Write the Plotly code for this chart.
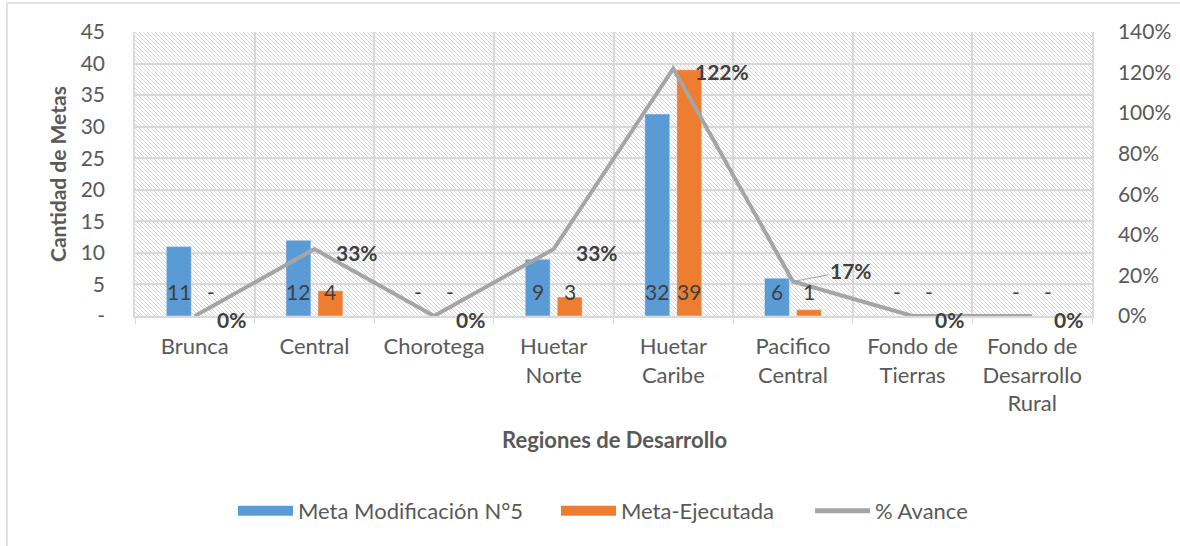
import base64
import plotly.graph_objects as go

# ---------------- data ----------------
categories = ["Brunca", "Central", "Chorotega", "Huetar Norte", "Huetar Caribe",
              "Pacifico Central", "Fondo de Tierras", "Fondo de Desarrollo Rural"]
tick_labels = ["Brunca", "Central", "Chorotega", "Huetar<br>Norte", "Huetar<br>Caribe",
               "Pacifico<br>Central", "Fondo de<br>Tierras", "Fondo de<br>Desarrollo<br>Rural"]
meta_mod = [11, 12, 0, 9, 32, 6, 0, 0]
meta_ejec = [0, 4, 0, 3, 39, 1, 0, 0]
avance = [0.0, 0.33, 0.0, 0.33, 1.22, 0.17, 0.0, 0.0]
leader_idx = 5  # label with leader line

y_ticks = [0, 5, 10, 15, 20, 25, 30, 35, 40, 45]
y_ticktext = ["-", "5", "10", "15", "20", "25", "30", "35", "40", "45"]
y2_ticks = [0, 0.2, 0.4, 0.6, 0.8, 1.0, 1.2, 1.4]

series_names = ["Meta Modificación N°5", "Meta-Ejecutada", "% Avance"]

# ---------------- style ----------------
W, H = 1180, 546
ML, MR, MT, MB = 135, 88, 32, 230
PW, PH = W - ML - MR, H - MT - MB
FONT = "Lato, 'Open Sans', sans-serif"
GRID = "#D9D9D9"
TXT = "#595959"
LBL = "#404040"
BLUE, ORANGE, GREY = "#5B9BD5", "#ED7D31", "#A5A5A5"
FS_NUM = 20
FS_TXT = 22
LEGEND_PX = [238, 561, 815]  # left pixel of each legend swatch

# hatched plot background (diagonal lines)
svg = (
    f'<svg xmlns="http://www.w3.org/2000/svg" width="{PW}" height="{PH}">'
    '<defs><pattern id="p" width="4" height="4" patternUnits="userSpaceOnUse">'
    '<path d="M-1,-1 L5,5" stroke="#D4D4D4" stroke-width="1"/>'
    '<path d="M-1,3 L1,5" stroke="#D4D4D4" stroke-width="1"/>'
    '<path d="M3,-1 L5,1" stroke="#D4D4D4" stroke-width="1"/>'
    '</pattern></defs>'
    f'<rect width="{PW}" height="{PH}" fill="white"/>'
    f'<rect width="{PW}" height="{PH}" fill="url(#p)"/></svg>'
)
svg_uri = "data:image/svg+xml;base64," + base64.b64encode(svg.encode()).decode()

fig = go.Figure()
fig.add_trace(go.Bar(x=categories, y=meta_mod, name=series_names[0],
                     marker_color=BLUE, yaxis="y", showlegend=False))
fig.add_trace(go.Bar(x=categories, y=meta_ejec, name=series_names[1],
                     marker_color=ORANGE, yaxis="y", showlegend=False))
fig.add_trace(go.Scatter(x=categories, y=avance, name=series_names[2], mode="lines",
                         line=dict(color=GREY, width=4), yaxis="y2", showlegend=False))
# legend entries (wide rectangular swatches like the original)
legend_ids = ["legend", "legend2", "legend3"]
for nm, col, w, lg in zip(series_names, (BLUE, ORANGE, GREY), (15, 15, 5), legend_ids):
    fig.add_trace(go.Scatter(x=[None], y=[None], name=nm, mode="lines",
                             line=dict(color=col, width=w), showlegend=True, legend=lg))

annotations = []
# bar labels (inside base)
for vals, shift in ((meta_mod, -16), (meta_ejec, 16)):
    for c, v in zip(categories, vals):
        annotations.append(dict(x=c, y=0, xref="x", yref="y", text="-" if v == 0 else str(v),
                                showarrow=False, xshift=shift, yshift=25, yanchor="middle",
                                font=dict(family=FONT, size=FS_NUM + 1, color=LBL)))
# line labels
for i, (c, v) in enumerate(zip(categories, avance)):
    txt = f"<b>{round(v * 100):d}%</b>"
    if i == leader_idx:
        annotations.append(dict(x=c, y=v, xref="x", yref="y2", text=txt, showarrow=True,
                                arrowhead=0, arrowwidth=1, arrowcolor=GREY, ax=58, ay=-11,
                                font=dict(family=FONT, size=FS_NUM + 1, color=LBL)))
    else:
        annotations.append(dict(x=c, y=v, xref="x", yref="y2", text=txt, showarrow=False,
                                xanchor="left", yanchor="middle", xshift=20, yshift=-3,
                                font=dict(family=FONT, size=FS_NUM + 1, color=LBL)))
# axis titles
annotations.append(dict(x=(614 - ML) / PW, y=(MT + PH - 440) / PH, xref="paper", yref="paper",
                        xanchor="center", yanchor="middle",
                        text="<b>Regiones de Desarrollo</b>", showarrow=False,
                        font=dict(family=FONT, size=FS_TXT, color=TXT)))
annotations.append(dict(x=(57 - ML) / PW, y=0.5, xref="paper", yref="paper",
                        xanchor="center", yanchor="middle",
                        text="<b>Cantidad de Metas</b>", showarrow=False, textangle=-90,
                        font=dict(family=FONT, size=FS_TXT - 1, color=TXT)))

legend_common = dict(orientation="h", xanchor="left", y=(MT + PH - 511) / PH, yanchor="middle",
                     font=dict(family=FONT, size=FS_TXT, color=TXT), itemwidth=55,
                     bgcolor="rgba(0,0,0,0)", borderwidth=0)
legend_layout = {lg: dict(legend_common, x=(px - 5 - ML) / PW)
                 for lg, px in zip(legend_ids, LEGEND_PX)}

fig.update_layout(
    width=W, height=H,
    margin=dict(l=ML, r=MR, t=MT, b=MB, autoexpand=False),
    paper_bgcolor="white", plot_bgcolor="white",
    font=dict(family=FONT, size=FS_NUM, color=TXT),
    barmode="group", bargap=0.465, bargroupgap=0.22,
    xaxis=dict(type="category", tickvals=categories, ticktext=tick_labels,
               range=[-0.5, len(categories) - 0.5],
               tickson="boundaries", ticks="outside", ticklen=6, tickcolor=GRID,
               showgrid=True, gridcolor=GRID, gridwidth=1.5,
               showline=True, linecolor=GRID, linewidth=1.5,
               ticklabelstandoff=10, automargin=False,
               tickfont=dict(family=FONT, size=FS_TXT, color=TXT)),
    yaxis=dict(range=[0, 45], tickvals=y_ticks, ticktext=y_ticktext,
               showgrid=True, gridcolor=GRID, gridwidth=1.5, zeroline=False,
               showline=True, linecolor=GRID, linewidth=1.5,
               ticklabelstandoff=24, automargin=False,
               tickfont=dict(family=FONT, size=FS_NUM + 1, color=TXT)),
    yaxis2=dict(range=[0, 1.4], tickvals=y2_ticks, tickformat=".0%", overlaying="y",
                side="right", showgrid=False, zeroline=False,
                showline=True, linecolor=GRID, linewidth=1.5,
                ticklabelstandoff=20, automargin=False,
                tickfont=dict(family=FONT, size=FS_NUM + 1, color=TXT)),
    images=[dict(source=svg_uri, xref="paper", yref="paper", x=0, y=1, sizex=1, sizey=1,
                 xanchor="left", yanchor="top", sizing="stretch", layer="below")],
    shapes=[dict(type="rect", xref="paper", yref="paper",
                 x0=(7 - ML) / PW, x1=(1200 - ML) / PW,
                 y0=(MT + PH - 600) / PH, y1=(MT + PH - 3) / PH,
                 line=dict(color=GRID, width=1.5), fillcolor="rgba(0,0,0,0)", layer="below")],
    annotations=annotations,
    showlegend=True,
    **legend_layout,
)

fig.write_html("out.html", config={"displayModeBar": False},
               post_script="document.body.style.margin='0';document.body.style.padding='0';")
